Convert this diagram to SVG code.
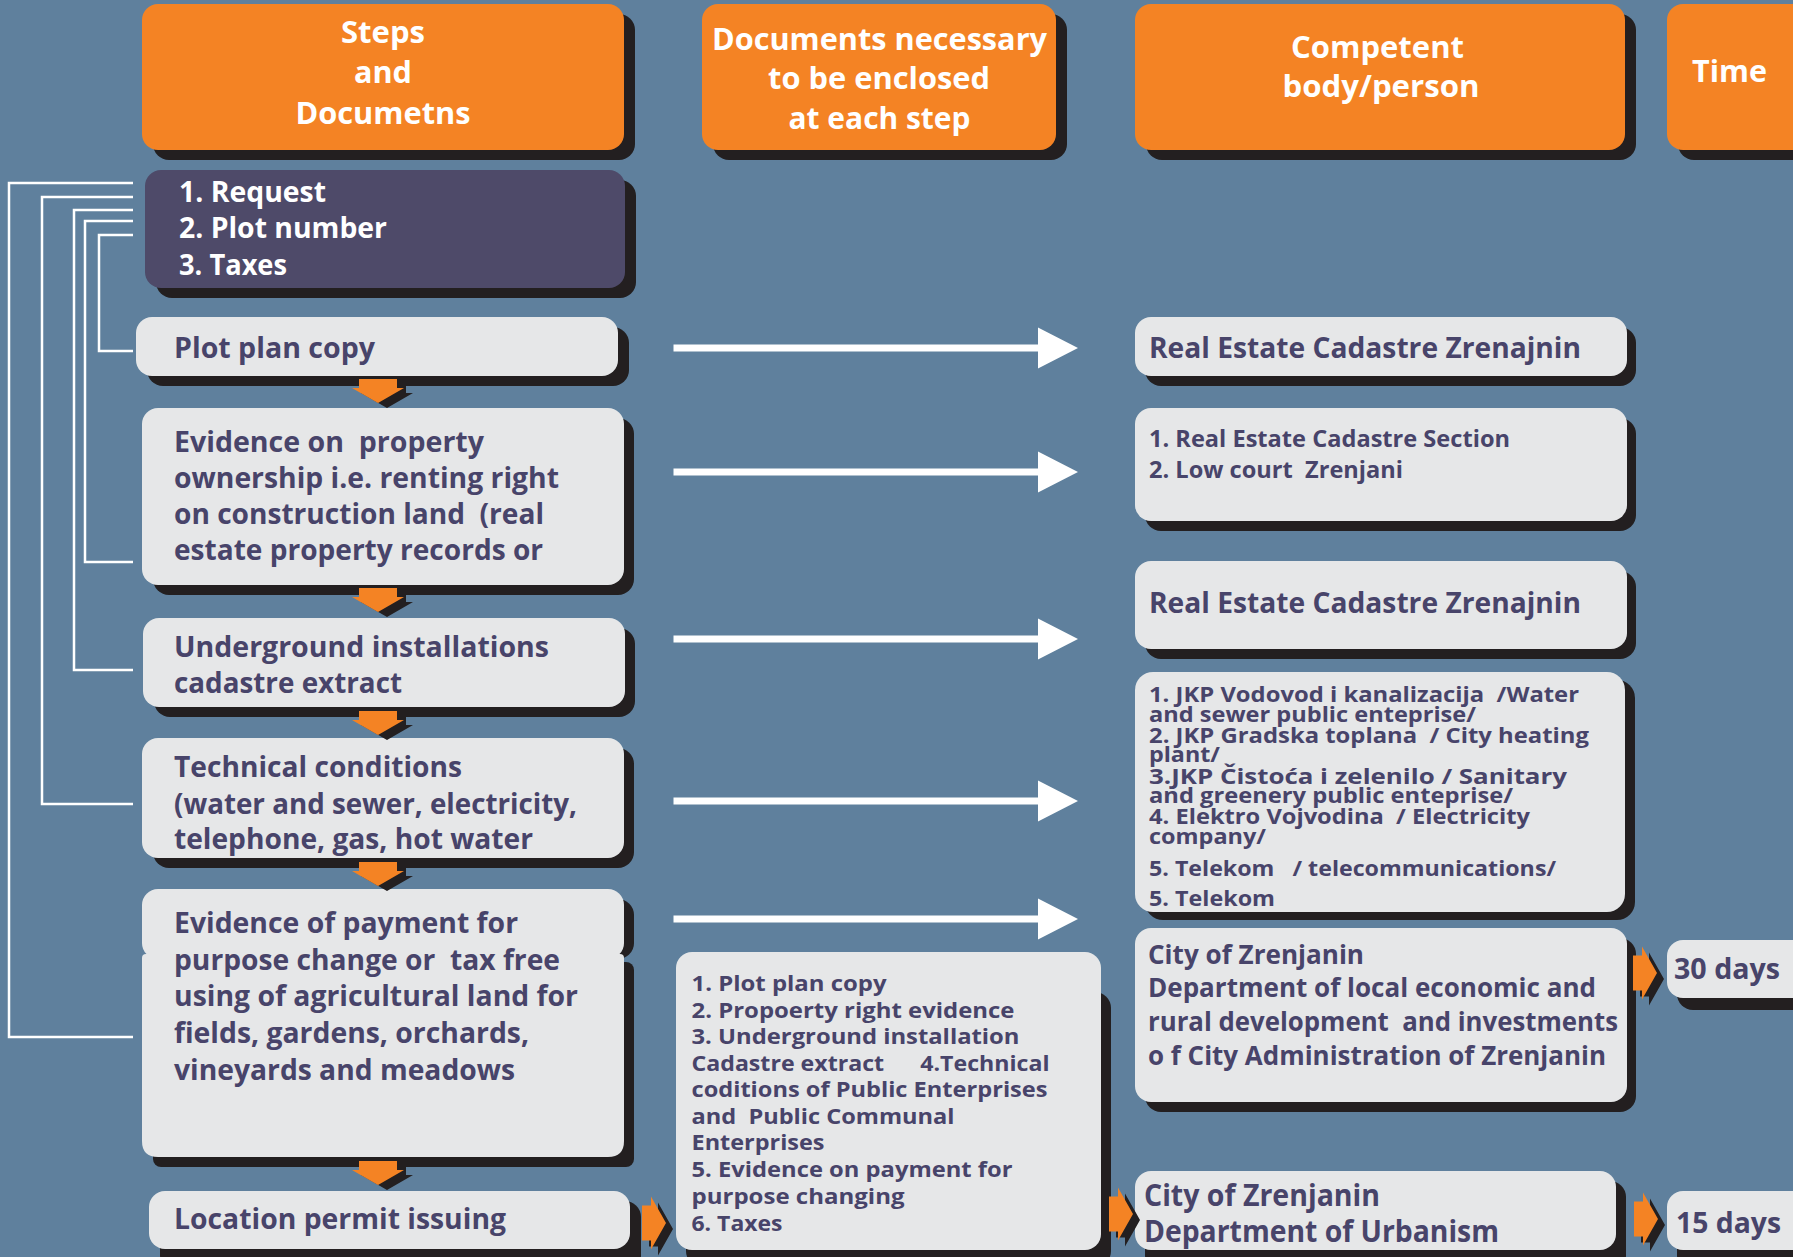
<svg xmlns="http://www.w3.org/2000/svg" xmlns:xlink="http://www.w3.org/1999/xlink" width="1793" height="1257" viewBox="0 0 1793 1257">
<style>
text{font-family:"Open Sans","DejaVu Sans",sans-serif;font-weight:700;white-space:pre}
.sh{fill:#231f20}
.or{fill:#f48324}
.lt{fill:#e6e7e8}
.dk{fill:#4e4a69}
.ht{fill:#ffffff;font-size:31px;text-anchor:middle}
.wt{fill:#ffffff;font-size:29px}
.t{fill:#48446a}
.f29{font-size:29px}
.f23{font-size:23px}
.f22{font-size:22px}
.f21{font-size:21px}
.f27{font-size:27px}
.f30{font-size:30px}
.f28{font-size:28px}
.br{fill:none;stroke:#ffffff;stroke-width:2.5}
</style>
<defs>
<g id="down">
<polygon class="sh" transform="translate(9,5)" points="-19,-24 19,-24 19,-15 26,-15 0,0 -26,-15 -19,-15"/>
<polygon class="or" points="-19,-24 19,-24 19,-15 26,-15 0,0 -26,-15 -19,-15"/>
</g>
<g id="chev">
<polygon class="sh" transform="translate(7,6)" points="-24,-17.5 -15,-17.5 -15,-26.5 0,0 -15,26.5 -15,17.5 -24,17.5"/>
<polygon class="or" points="-24,-17.5 -15,-17.5 -15,-26.5 0,0 -15,26.5 -15,17.5 -24,17.5"/>
</g>
<polygon id="warrow" fill="#ffffff" points="-404.5,-3.5 -40,-3.5 -40,-20.5 0,0 -40,20.5 -40,3.5 -404.5,3.5"/>
</defs>
<rect width="1793" height="1257" fill="#5f809d"/>

<g id="header-steps">
<rect class="sh" x="153" y="14" width="482" height="146" rx="16"/>
<rect class="or" x="142" y="4" width="482" height="146" rx="16"/>
<text class="ht" x="383" y="43" textLength="84" lengthAdjust="spacingAndGlyphs">Steps</text>
<text class="ht" x="383" y="83" textLength="58" lengthAdjust="spacingAndGlyphs">and</text>
<text class="ht" x="383" y="124" textLength="175" lengthAdjust="spacingAndGlyphs">Documetns</text>
</g>
<g id="header-documents">
<rect class="sh" x="713" y="14" width="354" height="146" rx="16"/>
<rect class="or" x="702" y="4" width="354" height="146" rx="16"/>
<text class="ht" x="879.5" y="50" textLength="335" lengthAdjust="spacingAndGlyphs">Documents necessary</text>
<text class="ht" x="879" y="89" textLength="222" lengthAdjust="spacingAndGlyphs">to be enclosed</text>
<text class="ht" x="879.5" y="129" textLength="182" lengthAdjust="spacingAndGlyphs">at each step</text>
</g>
<g id="header-competent">
<rect class="sh" x="1146" y="14" width="490" height="146" rx="16"/>
<rect class="or" x="1135" y="4" width="490" height="146" rx="16"/>
<text class="ht" x="1377.5" y="58" textLength="173" lengthAdjust="spacingAndGlyphs">Competent</text>
<text class="ht" x="1381" y="97" textLength="197" lengthAdjust="spacingAndGlyphs">body/person</text>
</g>
<g id="header-time">
<rect class="sh" x="1678" y="14" width="140" height="146" rx="16"/>
<rect class="or" x="1667" y="4" width="140" height="146" rx="16"/>
<text class="ht" x="1729.5" y="82" textLength="75" lengthAdjust="spacingAndGlyphs">Time</text>
</g>

<g id="node-request">
<rect class="sh" x="156" y="180" width="480" height="118" rx="16"/>
<rect class="dk" x="145" y="170" width="480" height="118" rx="16"/>
<text class="wt" x="179" y="202" textLength="147" lengthAdjust="spacingAndGlyphs">1. Request</text>
<text class="wt" x="179" y="238" textLength="208" lengthAdjust="spacingAndGlyphs">2. Plot number</text>
<text class="wt" x="179" y="275" textLength="108" lengthAdjust="spacingAndGlyphs">3. Taxes</text>
</g>

<g id="node-plot-plan">
<rect class="sh" x="147" y="327" width="482" height="59" rx="16"/>
<rect class="lt" x="136" y="317" width="482" height="59" rx="16"/>
<text class="t f29" x="174" y="358" textLength="201" lengthAdjust="spacingAndGlyphs">Plot plan copy</text>
</g>

<g id="node-property">
<rect class="sh" x="153" y="418" width="481" height="177" rx="16"/>
<rect class="lt" x="142" y="408" width="482" height="177" rx="16"/>
<text class="t f29" x="174" y="452" textLength="310" lengthAdjust="spacingAndGlyphs">Evidence on  property</text>
<text class="t f29" x="174" y="488" textLength="385" lengthAdjust="spacingAndGlyphs">ownership i.e. renting right</text>
<text class="t f29" x="174" y="524" textLength="370" lengthAdjust="spacingAndGlyphs">on construction land  (real</text>
<text class="t f29" x="174" y="560" textLength="369" lengthAdjust="spacingAndGlyphs">estate property records or</text>
</g>

<g id="node-underground">
<rect class="sh" x="154" y="628" width="481" height="89" rx="16"/>
<rect class="lt" x="143" y="618" width="482" height="89" rx="16"/>
<text class="t f29" x="174" y="657" textLength="375" lengthAdjust="spacingAndGlyphs">Underground installations</text>
<text class="t f29" x="174" y="693" textLength="228" lengthAdjust="spacingAndGlyphs">cadastre extract</text>
</g>

<g id="node-technical">
<rect class="sh" x="153" y="748" width="481" height="120" rx="16"/>
<rect class="lt" x="142" y="738" width="482" height="120" rx="16"/>
<text class="t f29" x="174" y="777" textLength="288" lengthAdjust="spacingAndGlyphs">Technical conditions</text>
<text class="t f29" x="174" y="814" textLength="403" lengthAdjust="spacingAndGlyphs">(water and sewer, electricity,</text>
<text class="t f29" x="174" y="849" textLength="359" lengthAdjust="spacingAndGlyphs">telephone, gas, hot water</text>
</g>

<g id="node-payment">
<rect class="sh" x="153" y="899" width="481" height="60" rx="16"/>
<rect class="sh" x="153" y="962" width="481" height="205" rx="8"/>
<rect class="lt" x="142" y="889" width="482" height="70" rx="16"/>
<path class="lt" d="M146,954 H620 Q624,954 624,958 V1141 Q624,1157 608,1157 H158 Q142,1157 142,1141 V958 Q142,954 146,954 Z"/>
<rect class="lt" x="150" y="940" width="466" height="30"/>
<text class="t f29" x="174" y="933" textLength="344" lengthAdjust="spacingAndGlyphs">Evidence of payment for</text>
<text class="t f29" x="174" y="970" textLength="386" lengthAdjust="spacingAndGlyphs">purpose change or  tax free</text>
<text class="t f29" x="174" y="1006" textLength="404" lengthAdjust="spacingAndGlyphs">using of agricultural land for</text>
<text class="t f29" x="174" y="1043" textLength="355" lengthAdjust="spacingAndGlyphs">fields, gardens, orchards,</text>
<text class="t f29" x="174" y="1080" textLength="341" lengthAdjust="spacingAndGlyphs">vineyards and meadows</text>
</g>

<g id="node-location">
<rect class="sh" x="160" y="1201" width="481" height="70" rx="16"/>
<rect class="lt" x="149" y="1191" width="481" height="58" rx="16"/>
<text class="t f29" x="174" y="1229" textLength="332" lengthAdjust="spacingAndGlyphs">Location permit issuing</text>
</g>

<g id="node-docs">
<rect class="sh" x="686" y="992" width="425" height="275" rx="16"/>
<rect class="lt" x="676" y="952" width="425" height="298" rx="16"/>
<text class="t f22" x="691.5" y="991" textLength="195" lengthAdjust="spacingAndGlyphs">1. Plot plan copy</text>
<text class="t f22" x="691.5" y="1018" textLength="323" lengthAdjust="spacingAndGlyphs">2. Propoerty right evidence</text>
<text class="t f22" x="691.5" y="1044" textLength="328" lengthAdjust="spacingAndGlyphs">3. Underground installation</text>
<text class="t f22" x="691.5" y="1071" textLength="358" lengthAdjust="spacingAndGlyphs">Cadastre extract      4.Technical</text>
<text class="t f22" x="691.5" y="1097" textLength="356" lengthAdjust="spacingAndGlyphs">coditions of Public Enterprises</text>
<text class="t f22" x="691.5" y="1124" textLength="263" lengthAdjust="spacingAndGlyphs">and  Public Communal</text>
<text class="t f22" x="691.5" y="1150" textLength="133" lengthAdjust="spacingAndGlyphs">Enterprises</text>
<text class="t f22" x="691.5" y="1177" textLength="321" lengthAdjust="spacingAndGlyphs">5. Evidence on payment for</text>
<text class="t f22" x="691.5" y="1204" textLength="213" lengthAdjust="spacingAndGlyphs">purpose changing</text>
<text class="t f22" x="691.5" y="1231" textLength="91" lengthAdjust="spacingAndGlyphs">6. Taxes</text>
</g>

<g id="node-cadastre-1">
<rect class="sh" x="1145" y="327" width="491" height="59" rx="16"/>
<rect class="lt" x="1135" y="317" width="492" height="59" rx="16"/>
<text class="t f29" x="1149" y="358" textLength="432" lengthAdjust="spacingAndGlyphs">Real Estate Cadastre Zrenajnin</text>
</g>

<g id="node-cadastre-court">
<rect class="sh" x="1145" y="418" width="491" height="113" rx="16"/>
<rect class="lt" x="1135" y="408" width="492" height="113" rx="16"/>
<text class="t f23" x="1149" y="447" textLength="361" lengthAdjust="spacingAndGlyphs">1. Real Estate Cadastre Section</text>
<text class="t f23" x="1149" y="478" textLength="254" lengthAdjust="spacingAndGlyphs">2. Low court  Zrenjani</text>
</g>

<g id="node-cadastre-2">
<rect class="sh" x="1145" y="571" width="491" height="88" rx="16"/>
<rect class="lt" x="1135" y="561" width="492" height="88" rx="16"/>
<text class="t f29" x="1149" y="613" textLength="432" lengthAdjust="spacingAndGlyphs">Real Estate Cadastre Zrenajnin</text>
</g>

<g id="node-jkp">
<rect class="sh" x="1145" y="680" width="490" height="240" rx="18"/>
<rect class="lt" x="1135" y="672" width="490" height="240" rx="18"/>
<text class="t f21" x="1149" y="702" textLength="430" lengthAdjust="spacingAndGlyphs">1. JKP Vodovod i kanalizacija  /Water</text>
<text class="t f21" x="1149" y="722" textLength="327" lengthAdjust="spacingAndGlyphs">and sewer public enteprise/</text>
<text class="t f21" x="1149" y="743" textLength="440" lengthAdjust="spacingAndGlyphs">2. JKP Gradska toplana  / City heating</text>
<text class="t f21" x="1149" y="762" textLength="71" lengthAdjust="spacingAndGlyphs">plant/</text>
<text class="t f21" x="1149" y="784" textLength="418" lengthAdjust="spacingAndGlyphs">3.JKP Čistoća i zelenilo / Sanitary</text>
<text class="t f21" x="1149" y="803" textLength="364" lengthAdjust="spacingAndGlyphs">and greenery public enteprise/</text>
<text class="t f21" x="1149" y="824" textLength="381" lengthAdjust="spacingAndGlyphs">4. Elektro Vojvodina  / Electricity</text>
<text class="t f21" x="1149" y="844" textLength="117" lengthAdjust="spacingAndGlyphs">company/</text>
<text class="t f22" x="1149" y="876" textLength="407" lengthAdjust="spacingAndGlyphs">5. Telekom   / telecommunications/</text>
<text class="t f22" x="1149" y="906" textLength="126" lengthAdjust="spacingAndGlyphs">5. Telekom</text>
</g>

<g id="node-city-economic">
<rect class="sh" x="1145" y="938" width="491" height="174" rx="16"/>
<rect class="lt" x="1135" y="928" width="492" height="174" rx="16"/>
<text class="t f27" x="1148" y="964" textLength="216" lengthAdjust="spacingAndGlyphs">City of Zrenjanin</text>
<text class="t f27" x="1148" y="997" textLength="448" lengthAdjust="spacingAndGlyphs">Department of local economic and</text>
<text class="t f27" x="1148" y="1031" textLength="470" lengthAdjust="spacingAndGlyphs">rural development  and investments</text>
<text class="t f27" x="1148" y="1065" textLength="458" lengthAdjust="spacingAndGlyphs">o f City Administration of Zrenjanin</text>
</g>

<g id="node-city-urbanism">
<rect class="sh" x="1145" y="1181" width="481" height="90" rx="16"/>
<rect class="lt" x="1135" y="1171" width="481" height="79" rx="16"/>
<text class="t f30" x="1144" y="1206" textLength="236" lengthAdjust="spacingAndGlyphs">City of Zrenjanin</text>
<text class="t f30" x="1144" y="1242" textLength="355" lengthAdjust="spacingAndGlyphs">Department of Urbanism</text>
</g>

<g id="node-30-days">
<rect class="sh" x="1677" y="950" width="140" height="60" rx="16"/>
<rect class="lt" x="1667" y="940" width="140" height="58" rx="16"/>
<text class="t f28" x="1674" y="979" textLength="106" lengthAdjust="spacingAndGlyphs">30 days</text>
</g>

<g id="node-15-days">
<rect class="sh" x="1677" y="1201" width="140" height="70" rx="16"/>
<rect class="lt" x="1667" y="1191" width="140" height="59" rx="16"/>
<text class="t f28" x="1676" y="1233" textLength="105" lengthAdjust="spacingAndGlyphs">15 days</text>
</g>

<g id="connectors">
<path class="br" d="M133,183 H9 V1037 H133"/>
<path class="br" d="M133,197 H42 V804 H133"/>
<path class="br" d="M133,210 H74 V670 H133"/>
<path class="br" d="M133,221 H85 V562 H133"/>
<path class="br" d="M133,235 H99 V351 H133"/>
<use xlink:href="#warrow" x="1078" y="348"/>
<use xlink:href="#warrow" x="1078" y="472"/>
<use xlink:href="#warrow" x="1078" y="639"/>
<use xlink:href="#warrow" x="1078" y="801"/>
<use xlink:href="#warrow" x="1078" y="919"/>
<use xlink:href="#down" x="378" y="403"/>
<use xlink:href="#down" x="378" y="612"/>
<use xlink:href="#down" x="378" y="735"/>
<use xlink:href="#down" x="378" y="886"/>
<use xlink:href="#down" x="378" y="1185"/>
<use xlink:href="#chev" x="666" y="1223"/>
<use xlink:href="#chev" x="1133" y="1214"/>
<use xlink:href="#chev" x="1657" y="973"/>
<use xlink:href="#chev" x="1658" y="1219"/>
</g>
</svg>
